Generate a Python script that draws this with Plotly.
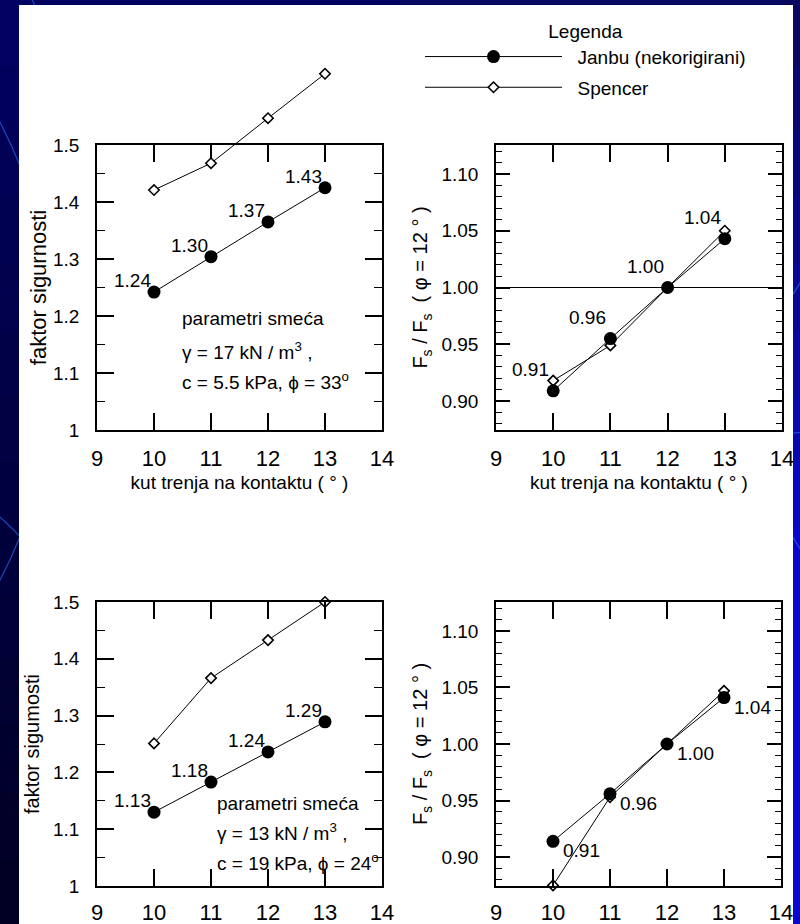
import plotly.graph_objects as go

W, H = 800, 924
FONT = "Arial, Liberation Sans, sans-serif"

# ---------------- data ----------------
angles = [10, 11, 12, 13]
x_ticks = [9, 10, 11, 12, 13, 14]
x_ticktext = ["9", "10", "11", "12", "13", "14"]

fs_top_janbu = [1.242, 1.304, 1.365, 1.425]
fs_top_spencer = [1.421, 1.468, 1.547, 1.625]
fs_top_labels = ["1.24", "1.30", "1.37", "1.43"]

ratio_top_janbu = [0.909, 0.955, 1.000, 1.043]
ratio_top_spencer = [0.918, 0.949, 1.000, 1.050]
ratio_top_labels = ["0.91", "0.96", "1.00", "1.04"]

fs_bot_janbu = [1.130, 1.183, 1.236, 1.289]
fs_bot_spencer = [1.251, 1.366, 1.433, 1.500]
fs_bot_labels = ["1.13", "1.18", "1.24", "1.29"]

ratio_bot_janbu = [0.914, 0.956, 1.000, 1.041]
ratio_bot_spencer = [0.875, 0.953, 1.000, 1.047]
ratio_bot_labels = ["0.91", "0.96", "1.00", "1.04"]

fs_ticks = [1.0, 1.1, 1.2, 1.3, 1.4, 1.5]
fs_ticktext = ["1", "1.1", "1.2", "1.3", "1.4", "1.5"]
ratio_ticks = [0.90, 0.95, 1.00, 1.05, 1.10]
ratio_ticktext = ["0.90", "0.95", "1.00", "1.05", "1.10"]

# ---------------- geometry helpers ----------------
def fx(p):
    return p / W


def fy(p):
    return 1 - p / H


A_x, A_y = (97, 382), (145, 430)
B_x, B_y = (496, 782), (145, 430)
C_x, C_y = (97, 382), (602, 886)
D_x, D_y = (496, 781), (602, 886)

fs_range = [1.0, 1.5]
ratio_range = [0.8745, 1.1255]
# tall invisible overlay for the top-left Spencer curve (runs above the frame)
tall_top = fs_range[0] + (fs_range[1] - fs_range[0]) * (A_y[1] - 0) / (A_y[1] - A_y[0])

fig = go.Figure()


def spencer(x, y, xa, ya, show):
    return go.Scatter(
        x=x, y=y, xaxis=xa, yaxis=ya, mode="lines+markers",
        name="\u00a0\u00a0Spencer", legendgroup="s", legendrank=2, showlegend=show,
        line=dict(color="black", width=1),
        marker=dict(symbol="diamond", size=8, color="white",
                    line=dict(color="black", width=1.6)),
        cliponaxis=False,
    )


def janbu(x, y, xa, ya, show):
    return go.Scatter(
        x=x, y=y, xaxis=xa, yaxis=ya, mode="lines+markers",
        name="\u00a0\u00a0Janbu (nekorigirani)", legendgroup="j", legendrank=1, showlegend=show,
        line=dict(color="black", width=1),
        marker=dict(symbol="circle", size=13, color="black"),
        cliponaxis=False,
    )


fig.add_trace(spencer(angles, fs_top_spencer, "x5", "y5", True))
fig.add_trace(janbu(angles, fs_top_janbu, "x", "y", True))
fig.add_trace(spencer(angles, ratio_top_spencer, "x2", "y2", False))
fig.add_trace(janbu(angles, ratio_top_janbu, "x2", "y2", False))
fig.add_trace(spencer(angles, fs_bot_spencer, "x3", "y3", False))
fig.add_trace(janbu(angles, fs_bot_janbu, "x3", "y3", False))
fig.add_trace(spencer(angles, ratio_bot_spencer, "x4", "y4", False))
fig.add_trace(janbu(angles, ratio_bot_janbu, "x4", "y4", False))


def xaxis(dom, anchor, title=None, standoff=8):
    d = dict(
        domain=[fx(dom[0]), fx(dom[1])], anchor=anchor, range=[9, 14],
        tickmode="array", tickvals=x_ticks, ticktext=x_ticktext,
        ticks="inside", ticklen=17, tickwidth=1.5, tickcolor="black",
        showline=True, linecolor="black", linewidth=1.5, mirror="allticks",
        showgrid=False, zeroline=False, ticklabelstandoff=standoff,
        tickfont=dict(family=FONT, size=22, color="black"),
    )
    if title:
        d["title"] = dict(text=title, standoff=6, font=dict(family=FONT, size=19, color="black"))
    return d


def yaxis(dom, anchor, rng, tv, tt, major_len, minor_dtick, minor_len, title, tsize, standoff):
    return dict(
        domain=[fy(dom[1]), fy(dom[0])], anchor=anchor, range=rng,
        tickmode="array", tickvals=tv, ticktext=tt,
        ticks="inside", ticklen=major_len, tickwidth=1.5, tickcolor="black",
        minor=dict(ticks="inside", dtick=minor_dtick, tick0=0, ticklen=minor_len,
                   tickwidth=1.2, tickcolor="black", showgrid=False),
        showline=True, linecolor="black", linewidth=1.5, mirror="allticks",
        showgrid=False, zeroline=False, ticklabelstandoff=12,
        tickfont=dict(family=FONT, size=19, color="black"),
        title=dict(text=title, standoff=standoff, font=dict(family=FONT, size=tsize, color="black")),
    )


xtitle = "kut trenja na kontaktu ( \u00b0 )"
ratio_title = "F<sub>s</sub> / F<sub>s</sub>  ( \u03c6 = 12 \u00b0 )"

fig.update_layout(
    xaxis=xaxis(A_x, "y", xtitle),
    yaxis=yaxis(A_y, "x", fs_range, fs_ticks, fs_ticktext, 17, 0.05, 8,
                "faktor sigurnosti", 22, 0),
    xaxis2=xaxis(B_x, "y2", xtitle),
    yaxis2=yaxis(B_y, "x2", ratio_range, ratio_ticks, ratio_ticktext, 14, 0.01, 6,
                 ratio_title, 20, 8),
    xaxis3=xaxis(C_x, "y3", standoff=6),
    yaxis3=yaxis(C_y, "x3", fs_range, fs_ticks, fs_ticktext, 17, 0.05, 8,
                 "faktor sigumosti", 20, 8),
    xaxis4=xaxis(D_x, "y4", standoff=6),
    yaxis4=yaxis(D_y, "x4", ratio_range, ratio_ticks, ratio_ticktext, 14, 0.01, 6,
                 ratio_title, 20, 8),
    xaxis5=dict(domain=[fx(A_x[0]), fx(A_x[1])], anchor="y5", range=[9, 14], visible=False),
    yaxis5=dict(domain=[fy(A_y[1]), 1.0], anchor="x5", range=[fs_range[0], tall_top], visible=False),
)

# ---------------- background / sheet ----------------
shapes = []
nb = 14
for i in range(nb):
    t = i / (nb - 1)
    rL = int(2 * (1 - t)); gL = int(2 * (1 - t)); bL = int(96 - 60 * t)
    shapes.append(dict(type="rect", xref="paper", yref="paper", layer="below",
                       x0=0, x1=0.5, y0=1 - (i + 1) / nb, y1=1 - i / nb,
                       fillcolor=f"rgb({rL},{gL},{bL})", line=dict(width=0)))
    bR = int(96 + 110 * min(1.0, t * 1.6))
    shapes.append(dict(type="rect", xref="paper", yref="paper", layer="below",
                       x0=0.5, x1=1, y0=1 - (i + 1) / nb, y1=1 - i / nb,
                       fillcolor=f"rgb(8,8,{bR})", line=dict(width=0)))
for (cx, cy, r) in [(-0.55, 0.62, 0.62), (0.9, 1.35, 0.95), (-0.3, 0.15, 0.45), (1.25, 0.55, 0.3)]:
    shapes.append(dict(type="circle", xref="paper", yref="paper", layer="below",
                       x0=cx - r, x1=cx + r, y0=cy - r * W / H, y1=cy + r * W / H,
                       line=dict(color="rgba(40,90,220,0.75)", width=1.3)))
shapes.append(dict(type="rect", xref="paper", yref="paper", layer="below",
                   x0=fx(19), x1=fx(793), y0=-0.01, y1=fy(5),
                   fillcolor="white", line=dict(width=0)))
shapes.append(dict(type="line", xref="x2 domain", yref="y2", x0=0, x1=1, y0=1.0, y1=1.0,
                   line=dict(color="black", width=1.2)))

ann_font = dict(family=FONT, size=19, color="black")
annotations = [
    dict(xref="x", yref="y", x=10.46, y=1.195, text="parametri sme\u0107a", showarrow=False,
         xanchor="left", yanchor="middle", font=ann_font),
    dict(xref="x", yref="y", x=10.46, y=1.139, text="\u03b3 = 17 kN / m<sup>3</sup> ,", showarrow=False,
         xanchor="left", yanchor="middle", font=ann_font),
    dict(xref="x", yref="y", x=10.46, y=1.086, text="c = 5.5 kPa, \u03d5 = 33<sup>o</sup>", showarrow=False,
         xanchor="left", yanchor="middle", font=ann_font),
    dict(xref="x3", yref="y3", x=11.07, y=1.146, text="parametri sme\u0107a", showarrow=False,
         xanchor="left", yanchor="middle", font=ann_font),
    dict(xref="x3", yref="y3", x=11.07, y=1.095, text="\u03b3 = 13 kN / m<sup>3</sup> ,", showarrow=False,
         xanchor="left", yanchor="middle", font=ann_font),
    dict(xref="x3", yref="y3", x=11.07, y=1.042, text="c = 19 kPa, \u03d5 = 24<sup>o</sup>", showarrow=False,
         xanchor="left", yanchor="middle", font=ann_font),
]

# value labels next to the Janbu points
label_sets = [
    ("x", "y", fs_top_janbu, fs_top_labels, "right", "bottom", -1, -1),
    ("x2", "y2", ratio_top_janbu, ratio_top_labels, "right", "bottom", -2, 9),
    ("x3", "y3", fs_bot_janbu, fs_bot_labels, "right", "bottom", -1, -1),
    ("x4", "y4", ratio_bot_janbu, ratio_bot_labels, "left", "top", 8, 3),
]
for xr, yr, vals, labs, xa, ya, xs, ys in label_sets:
    for xv, yv, lab in zip(angles, vals, labs):
        annotations.append(dict(xref=xr, yref=yr, x=xv, y=yv, text=lab, showarrow=False,
                                xanchor=xa, yanchor=ya, xshift=xs, yshift=ys, font=ann_font))

fig.update_layout(
    width=W, height=H,
    margin=dict(l=0, r=0, t=0, b=0, autoexpand=False),
    paper_bgcolor="#000060",
    plot_bgcolor="rgba(0,0,0,0)",
    font=dict(family=FONT, size=19, color="black"),
    shapes=shapes,
    annotations=annotations,
    showlegend=True,
    legend=dict(
        x=fx(420), y=fy(13), xanchor="left", yanchor="top",
        bgcolor="rgba(0,0,0,0)", borderwidth=0,
        itemwidth=137, tracegroupgap=3, traceorder="grouped",
        font=dict(family=FONT, size=19, color="black"),
        title=dict(text="Legenda", side="top center", font=dict(family=FONT, size=19, color="black")),
    ),
)

fig.write_html("out.html")
